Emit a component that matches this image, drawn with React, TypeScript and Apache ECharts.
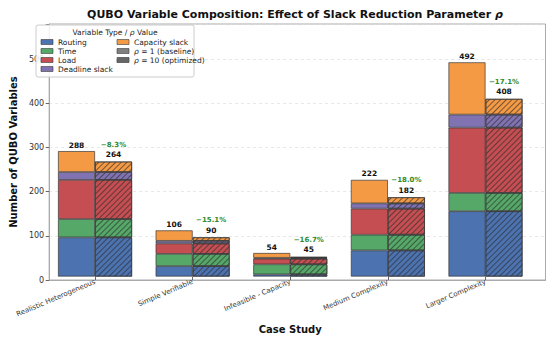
import React, { useEffect, useRef } from 'react';
import * as echarts from 'echarts';

const categories = ['Realistic Heterogeneous', 'Simple Verifiable', 'Infeasible - Capacity', 'Medium Complexity', 'Larger Complexity'];
const varTypes = ['Routing', 'Time', 'Load', 'Deadline slack', 'Capacity slack'];
const typeColors = ['#4C72B0', '#55A868', '#C44E52', '#8172B2', '#F59A44'];

// rho = 1 (baseline)
const routingBase = [90, 24, 5, 60, 150];
const timeBase = [42, 28, 23, 36, 42];
const loadBase = [90, 24, 13, 60, 150];
const deadlineBase = [18, 6, 2, 12, 30];
const capacityBase = [48, 24, 11, 54, 120];

// rho = 10 (optimized)
const routingOpt = [90, 24, 5, 60, 150];
const timeOpt = [42, 28, 23, 36, 42];
const loadOpt = [90, 24, 13, 60, 150];
const deadlineOpt = [18, 6, 2, 12, 30];
const capacityOpt = [24, 8, 2, 14, 36];

const yTicks = [0, 100, 200, 300, 400, 500];

const FONT = 'DejaVu Sans';

export default function App() {
  const ref = useRef<HTMLDivElement>(null);
  useEffect(() => {
    if (!ref.current) return;
    const chart = echarts.init(ref.current, undefined, { renderer: 'svg' });
    const baseSets = [routingBase, timeBase, loadBase, deadlineBase, capacityBase];
    const optSets = [routingOpt, timeOpt, loadOpt, deadlineOpt, capacityOpt];
    const totalBase = categories.map((_, i) => baseSets.reduce((s, a) => s + a[i], 0));
    const totalOpt = categories.map((_, i) => optSets.reduce((s, a) => s + a[i], 0));
    const pct = categories.map((_, i) => ((totalOpt[i] - totalBase[i]) / totalBase[i]) * 100);

    const decal = {
      symbol: 'rect',
      symbolSize: 1,
      dashArrayX: [1, 0],
      dashArrayY: [0.8, 2.4],
      rotation: -Math.PI / 4,
      color: 'rgba(40,40,40,0.62)',
    };

    const series: any[] = [];
    varTypes.forEach((name, k) => {
      series.push({
        name,
        type: 'bar',
        stack: 'base',
        xAxisIndex: 1,
        yAxisIndex: 1,
        barWidth: 37,
        barGap: '0%',
        data: baseSets[k],
        itemStyle: { color: typeColors[k], borderColor: '#3a3a3a', borderWidth: 0.7 },
        label: k === 4 ? {
          show: true,
          position: 'top',
          distance: 2,
          formatter: (p: any) => String(totalBase[p.dataIndex]),
          fontFamily: FONT,
          fontSize: 7.5,
          fontWeight: 'bold',
          color: '#111',
        } : { show: false },
      });
    });
    varTypes.forEach((name, k) => {
      series.push({
        name,
        type: 'bar',
        stack: 'opt',
        xAxisIndex: 1,
        yAxisIndex: 1,
        barWidth: 37,
        barGap: '0%',
        data: optSets[k],
        itemStyle: { color: typeColors[k], borderColor: '#3a3a3a', borderWidth: 0.7, decal },
        label: k === 4 ? {
          show: true,
          position: 'top',
          distance: 2,
          formatter: (p: any) => `{p|\u2212${Math.abs(pct[p.dataIndex]).toFixed(1)}%}\n{t|${totalOpt[p.dataIndex]}}`,
          rich: {
            p: { fontFamily: FONT, fontSize: 7, fontWeight: 'bold', color: '#2e8b2e', lineHeight: 10 },
            t: { fontFamily: FONT, fontSize: 7.5, fontWeight: 'bold', color: '#111', lineHeight: 10 },
          },
        } : { show: false },
      });
    });

    // legend graphics
    const lx = 36, ly = 25;
    const rowY = [42, 51, 60, 69];
    const legendEls: any[] = [
      { type: 'rect', shape: { x: lx, y: ly, width: 158, height: 52, r: 2 }, style: { fill: 'rgba(255,255,255,0.85)', stroke: '#cccccc', lineWidth: 1 }, z: 10 },
      {
        type: 'text', x: 115, y: 32, z: 11,
        style: {
          text: '{n|Variable Type / }{i|\u03C1}{n| Value}', align: 'center', verticalAlign: 'middle',
          rich: { n: { fontFamily: FONT, fontSize: 7.5, fill: '#222' }, i: { fontFamily: FONT, fontSize: 7.5, fontStyle: 'italic', fill: '#222' } },
        },
      },
    ];
    const col1 = [0, 1, 2, 3];
    col1.forEach((k, r) => {
      legendEls.push({ type: 'rect', shape: { x: 41, y: rowY[r] - 2.5, width: 12, height: 5 }, style: { fill: typeColors[k], stroke: '#3a3a3a', lineWidth: 0.6 }, z: 11 });
      legendEls.push({ type: 'text', x: 58, y: rowY[r], z: 11, style: { text: varTypes[k], fontFamily: FONT, fontSize: 7.5, fill: '#222', verticalAlign: 'middle' } });
    });
    legendEls.push({ type: 'rect', shape: { x: 117, y: rowY[0] - 2.5, width: 12, height: 5 }, style: { fill: typeColors[4], stroke: '#3a3a3a', lineWidth: 0.6 }, z: 11 });
    legendEls.push({ type: 'text', x: 134, y: rowY[0], z: 11, style: { text: varTypes[4], fontFamily: FONT, fontSize: 7.5, fill: '#222', verticalAlign: 'middle' } });
    legendEls.push({ type: 'rect', shape: { x: 117, y: rowY[1] - 2.5, width: 12, height: 5 }, style: { fill: '#808080', stroke: '#3a3a3a', lineWidth: 0.6 }, z: 11 });
    legendEls.push({
      type: 'text', x: 134, y: rowY[1], z: 11,
      style: { text: '{i|\u03C1}{n| = 1 (baseline)}', verticalAlign: 'middle', rich: { n: { fontFamily: FONT, fontSize: 7.5, fill: '#222' }, i: { fontFamily: FONT, fontSize: 7.5, fontStyle: 'italic', fill: '#222' } } },
    });
    legendEls.push({ type: 'rect', shape: { x: 117, y: rowY[2] - 2.5, width: 12, height: 5 }, style: { fill: '#808080', stroke: '#3a3a3a', lineWidth: 0.6 }, z: 11 });
    const hx = 117, hy = rowY[2] - 2.5;
    [[0, 3, 3, 0], [0, 5, 5, 0], [2, 5, 7, 0], [4, 5, 9, 0], [6, 5, 11, 0], [8, 5, 12, 1], [10, 5, 12, 3]].forEach(([x1, y1, x2, y2]) => {
      legendEls.push({ type: 'line', shape: { x1: hx + x1, y1: hy + y1, x2: hx + x2, y2: hy + y2 }, style: { stroke: '#2a2a2a', lineWidth: 0.6 }, z: 12 });
    });
    legendEls.push({
      type: 'text', x: 134, y: rowY[2], z: 11,
      style: { text: '{i|\u03C1}{n| = 10 (optimized)}', verticalAlign: 'middle', rich: { n: { fontFamily: FONT, fontSize: 7.5, fill: '#222' }, i: { fontFamily: FONT, fontSize: 7.5, fontStyle: 'italic', fill: '#222' } } },
    });

    chart.setOption({
      animation: false,
      backgroundColor: '#ffffff',
      textStyle: { fontFamily: FONT },
      title: {
        text: '{b|QUBO Variable Composition: Effect of Slack Reduction Parameter }{i|\u03C1}',
        left: 290,
        top: 4,
        textAlign: 'center',
        textStyle: {
          rich: {
            b: { fontFamily: FONT, fontSize: 11, fontWeight: 'bold', color: '#111' },
            i: { fontFamily: FONT, fontSize: 11, fontStyle: 'italic', color: '#111' },
          },
        },
      },
      grid: [
        { left: 34.5, right: 4.5, top: 24, bottom: 59, show: true, borderColor: '#aaaaaa', borderWidth: 1, backgroundColor: 'transparent' },
        { left: 46.2, right: 15.7, top: 24, bottom: 59 },
      ],
      xAxis: [
        {
          type: 'value', gridIndex: 0, min: 0, max: 1,
          axisLine: { show: true, lineStyle: { color: '#aaaaaa' } },
          axisTick: { show: false }, axisLabel: { show: false }, splitLine: { show: false },
        },
        {
          type: 'category',
          gridIndex: 1,
          data: categories,
          name: 'Case Study',
          nameLocation: 'middle',
          nameGap: 44,
          nameTextStyle: { fontFamily: FONT, fontSize: 10, fontWeight: 'bold', color: '#111' },
          axisLine: { show: false },
          axisTick: { show: true, alignWithLabel: true, length: 3.5, lineStyle: { color: '#666' } },
          axisLabel: { rotate: 23, fontFamily: FONT, fontSize: 7, color: '#333', margin: 5, interval: 0 },
        },
      ],
      yAxis: [
        {
          type: 'value',
          gridIndex: 0,
          min: 0,
          max: 580,
          interval: 100,
          name: 'Number of QUBO Variables',
          nameLocation: 'middle',
          nameGap: 19,
          nameTextStyle: { fontFamily: FONT, fontSize: 10, fontWeight: 'bold', color: '#111' },
          axisLine: { show: true, lineStyle: { color: '#aaaaaa' } },
          axisTick: { show: true, length: 3.5, lineStyle: { color: '#666' } },
          axisLabel: {
            fontFamily: FONT, fontSize: 8, color: '#333', margin: 5,
            formatter: (v: number) => (yTicks.includes(v) ? String(v) : ''),
          },
          splitLine: { show: true, lineStyle: { color: '#dddddd', type: [3, 3], width: 0.7 } },
        },
        { type: 'value', gridIndex: 1, min: 0, max: 580, interval: 100, show: false },
      ],
      graphic: legendEls,
      series,
    });
    return () => chart.dispose();
  }, []);
  return <div ref={ref} style={{ position: 'fixed', left: 0, top: 0, width: 550, height: 339 }} />;
}
